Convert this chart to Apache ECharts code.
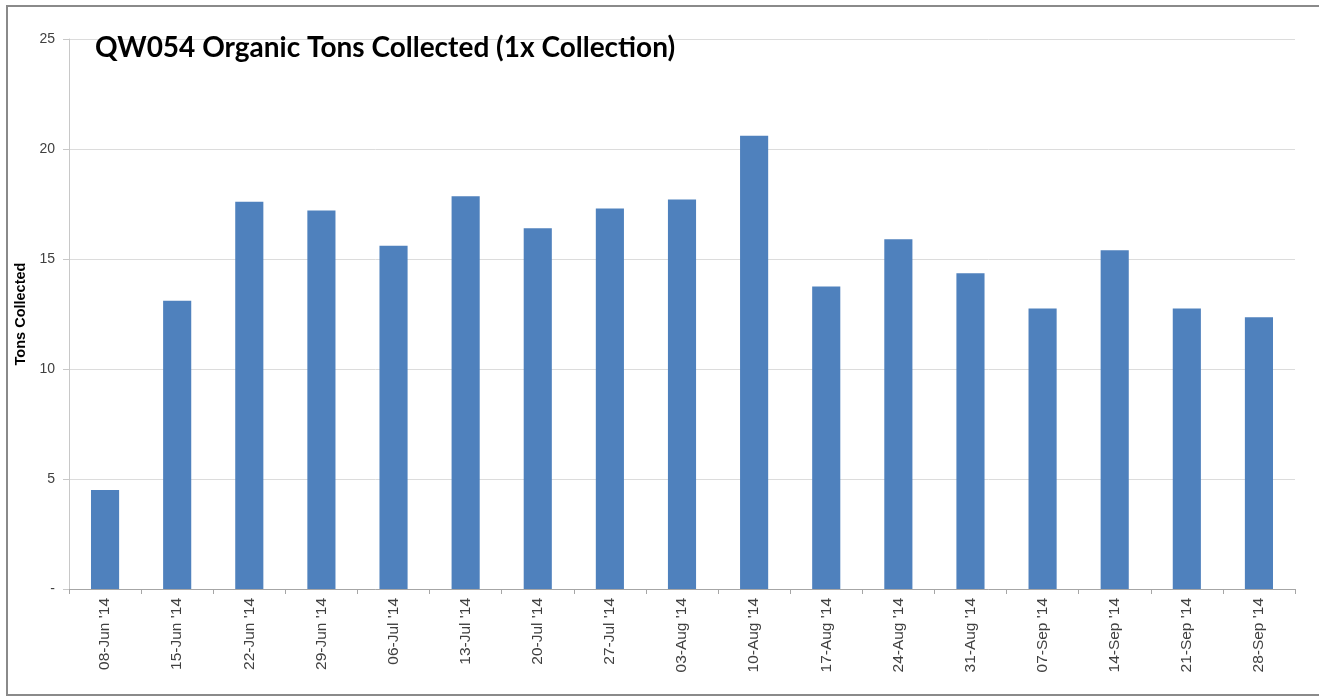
<!DOCTYPE html>
<html>
<head>
<meta charset="utf-8">
<script src="https://cdn.jsdelivr.net/npm/echarts@6/dist/echarts.min.js"></script>
<style>html,body{margin:0;padding:0;background:#fff}#c{width:1319px;height:700px}</style>
</head>
<body>
<div id="c"></div>
<script>
const titleText = 'QW054 Organic Tons Collected (1x Collection)';
const yAxisName = 'Tons Collected';
const categories = ["08-Jun '14","15-Jun '14","22-Jun '14","29-Jun '14","06-Jul '14","13-Jul '14","20-Jul '14","27-Jul '14","03-Aug '14","10-Aug '14","17-Aug '14","24-Aug '14","31-Aug '14","07-Sep '14","14-Sep '14","21-Sep '14","28-Sep '14"];
const tons = [4.5, 13.1, 17.6, 17.2, 15.6, 17.85, 16.4, 17.3, 17.7, 20.6, 13.75, 15.9, 14.35, 12.75, 15.4, 12.75, 12.35];

const chart = echarts.init(document.getElementById('c'), null, {renderer: 'canvas'});
chart.setOption({
  animation: false,
  backgroundColor: '#fff',
  title: {
    text: titleText, left: 90, top: 29,
    textStyle: {fontFamily: 'Lato', fontWeight: 'bold', fontSize: 28, color: '#000'}
  },
  graphic: [{
    type: 'rect', silent: true, z: -1,
    shape: {x: 7, y: 6, width: 1340, height: 689},
    style: {fill: 'none', stroke: '#8a8a8a', lineWidth: 2}
  }],
  grid: {left: 69, right: 24, top: 39, bottom: 111, containLabel: false},
  xAxis: {
    type: 'category', data: categories,
    axisLine: {lineStyle: {color: '#a6a6a6'}},
    axisTick: {show: true, length: 5, lineStyle: {color: '#a6a6a6'}},
    axisLabel: {rotate: 90, margin: 9, fontFamily: 'Liberation Sans', fontSize: 15.5, color: '#404040'}
  },
  yAxis: {
    type: 'value', min: 0, max: 25, interval: 5,
    name: yAxisName, nameLocation: 'middle', nameGap: 40, nameRotate: 90,
    nameTextStyle: {fontFamily: 'Liberation Sans', fontWeight: 'bold', fontSize: 14.5, color: '#000'},
    axisLine: {show: true, lineStyle: {color: '#c8c8c8'}},
    axisTick: {show: true, length: 6, lineStyle: {color: '#c8c8c8'}},
    axisLabel: {margin: 14, fontFamily: 'Liberation Sans', fontSize: 14, color: '#404040',
      formatter: v => v === 0 ? '-' : String(v)},
    splitLine: {lineStyle: {color: '#dcdcdc'}}
  },
  series: [{
    type: 'bar', data: tons, barWidth: '39%',
    itemStyle: {color: '#4f81bd'}
  }]
});
</script>
</body>
</html>
